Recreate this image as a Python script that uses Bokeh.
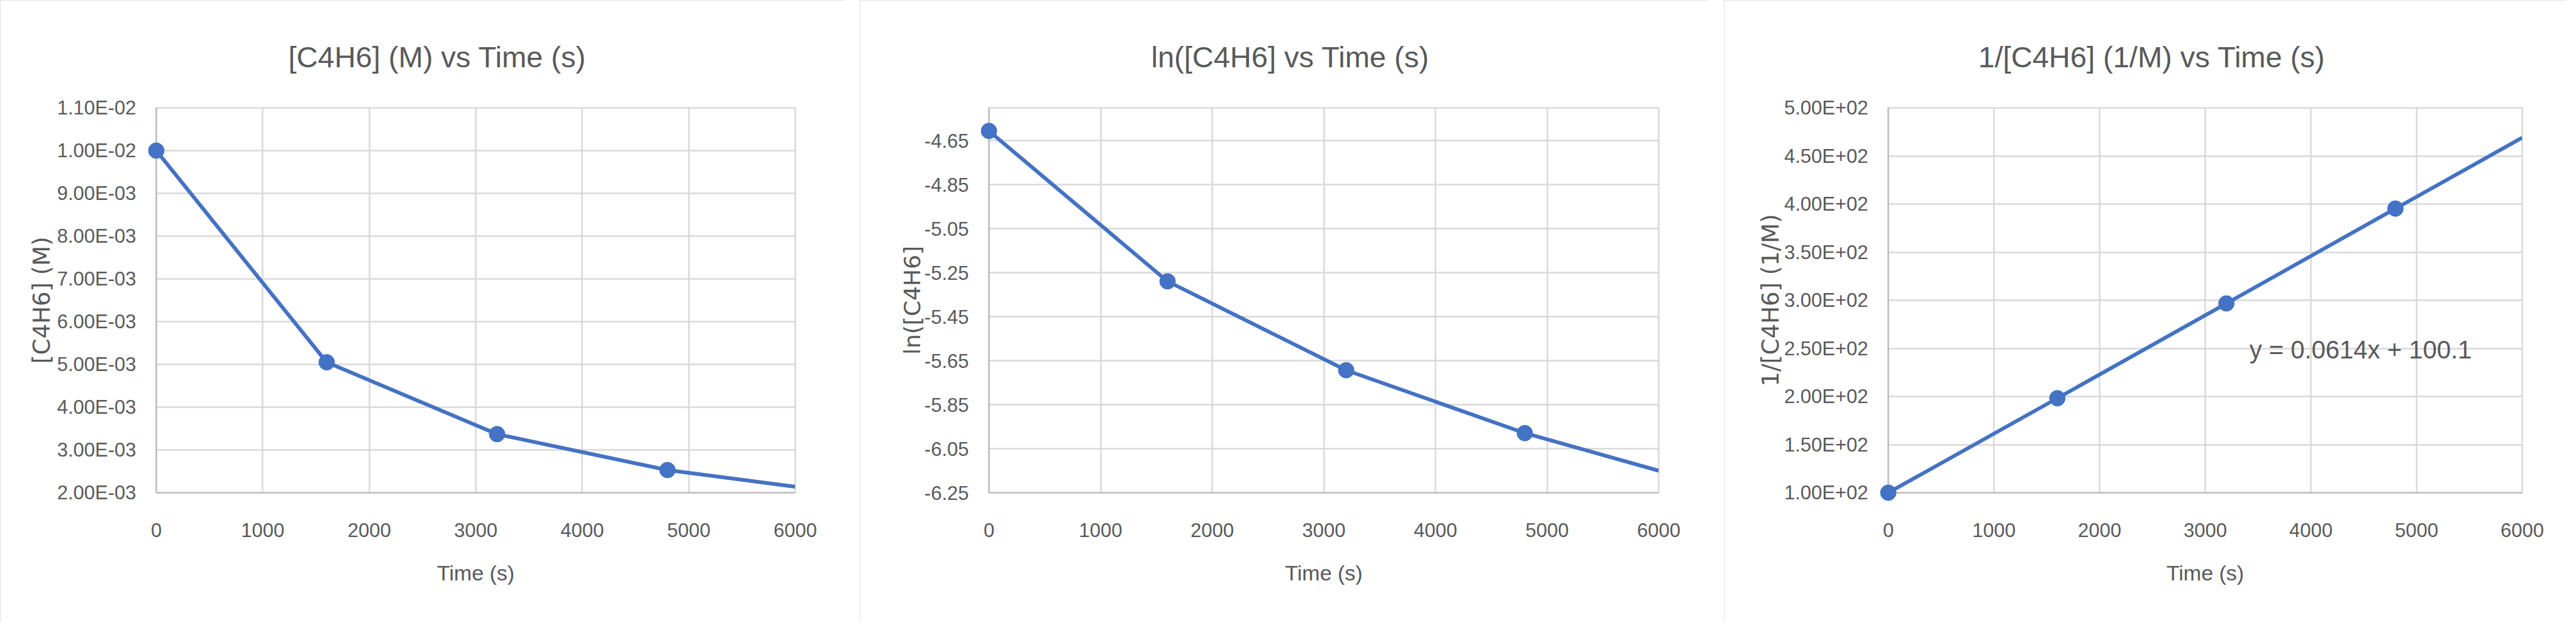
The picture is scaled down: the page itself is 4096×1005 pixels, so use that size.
from bokeh.plotting import figure
from bokeh.layouts import row
from bokeh.models import FixedTicker, Range1d, Label
from bokeh.embed import file_html
from bokeh.resources import INLINE

# ---------------- data ----------------
time_s = [0, 1600, 3200, 4800]
conc_M = [1.00e-2, 5.05e-3, 3.37e-3, 2.53e-3]
ln_conc = [-4.605, -5.289, -5.693, -5.979]
inv_conc = [100.0, 198.2, 296.7, 395.3]

line_time_s = [0, 1600, 3200, 4800, 6000]
conc_line = [1.00e-2, 5.05e-3, 3.37e-3, 2.53e-3, 2.14e-3]
ln_line = [-4.605, -5.289, -5.693, -5.979, -6.150]
inv_line = [100.0, 198.2, 296.7, 395.3, 469.0]

x_ticks = [0, 1000, 2000, 3000, 4000, 5000, 6000]
x_labels = ["0", "1000", "2000", "3000", "4000", "5000", "6000"]

y1_ticks = [0.002, 0.003, 0.004, 0.005, 0.006, 0.007, 0.008, 0.009, 0.010, 0.011]
y1_labels = ["2.00E-03", "3.00E-03", "4.00E-03", "5.00E-03", "6.00E-03",
             "7.00E-03", "8.00E-03", "9.00E-03", "1.00E-02", "1.10E-02"]

y2_ticks = [-6.25, -6.05, -5.85, -5.65, -5.45, -5.25, -5.05, -4.85, -4.65]
y2_labels = ["-6.25", "-6.05", "-5.85", "-5.65", "-5.45", "-5.25", "-5.05", "-4.85", "-4.65"]

y3_ticks = [100, 150, 200, 250, 300, 350, 400, 450, 500]
y3_labels = ["1.00E+02", "1.50E+02", "2.00E+02", "2.50E+02", "3.00E+02",
             "3.50E+02", "4.00E+02", "4.50E+02", "5.00E+02"]

titles = ["[C4H6] (M) vs Time (s)", "ln([C4H6]  vs Time (s)", "1/[C4H6] (1/M) vs Time (s)"]
y_titles = ["[C4H6] (M)", "ln([C4H6]", "1/[C4H6] (1/M)"]
x_title = "Time (s)"
equation = "y = 0.0614x + 100.1"

# ---------------- styling ----------------
BLUE = "#4472C4"
TEXT = "#595959"
GRID = "#D9D9D9"
AXIS = "#BFBFBF"
SANS = "Liberation Sans"
WIDE = "DejaVu Sans"


def make_panel(width, borders, title, title_offset, y_title, y_range, y_ticks, y_labels,
               line_y, pts_y, ylab_standoff, ylab_size):
    left, right, top, bottom = borders
    p = figure(width=width, height=989, output_backend="svg", toolbar_location=None,
               x_range=Range1d(0, 6000), y_range=Range1d(*y_range),
               min_border_left=left, min_border_right=right,
               min_border_top=top, min_border_bottom=bottom)
    p.background_fill_color = "white"
    p.border_fill_color = "white"
    p.outline_line_color = GRID
    p.outline_line_width = 2.5
    p.styles = {"outline": "3px solid #D9D9D9", "outline-offset": "-3px"}

    p.title.text = title
    p.title.align = "left"
    p.title.offset = title_offset
    p.title.text_font = SANS
    p.title.text_font_size = "47px"
    p.title.text_font_style = "normal"
    p.title.text_color = TEXT
    p.title.standoff = 110

    p.xaxis.ticker = FixedTicker(ticks=x_ticks)
    p.xaxis.major_label_overrides = dict(zip(x_ticks, x_labels))
    p.yaxis.ticker = FixedTicker(ticks=y_ticks)
    p.yaxis.major_label_overrides = dict(zip(y_ticks, y_labels))

    for ax in (p.xaxis[0], p.yaxis[0]):
        ax.axis_line_color = AXIS
        ax.axis_line_width = 2.5
        ax.major_tick_line_color = None
        ax.minor_tick_line_color = None
        ax.major_tick_in = 0
        ax.major_tick_out = 0
        ax.major_label_text_font = SANS
        ax.major_label_text_font_size = "31px"
        ax.major_label_text_color = TEXT
        ax.axis_label_text_color = TEXT
        ax.axis_label_text_font_style = "normal"

    p.xaxis.major_label_standoff = 48
    p.yaxis.major_label_standoff = 32
    p.xaxis.axis_label = x_title
    p.xaxis.axis_label_text_font = SANS
    p.xaxis.axis_label_text_font_size = "34px"
    p.xaxis.axis_label_standoff = 35
    p.yaxis.axis_label = y_title
    p.yaxis.axis_label_text_font = WIDE
    p.yaxis.axis_label_text_font_size = ylab_size
    p.yaxis.axis_label_standoff = ylab_standoff

    p.xgrid.grid_line_color = GRID
    p.xgrid.grid_line_width = 2.5
    p.ygrid.grid_line_color = GRID
    p.ygrid.grid_line_width = 2.5

    p.line(line_time_s, line_y, line_color=BLUE, line_width=6)
    p.scatter(time_s, pts_y, size=25, fill_color=BLUE, line_color=BLUE, level="overlay")
    return p


p1 = make_panel(1341, (248, 77, 165, 206), titles[0], 210, y_titles[0],
                (0.002, 0.011), y1_ticks, y1_labels, conc_line, conc_M, 0, "37px")
p2 = make_panel(1348, (205, 78, 168, 202), titles[1], 258, y_titles[1],
                (-6.25, -4.50), y2_ticks, y2_labels, ln_line, ln_conc, -4, "36px")
p3 = make_panel(1339, (261, 70, 171, 200), titles[2], 143, y_titles[2],
                (100, 500), y3_ticks, y3_labels, inv_line, inv_conc, -3, "37px")

p3.add_layout(Label(x=4470, y=249, text=equation, text_align="center",
                    text_baseline="middle", text_font=SANS, text_font_size="40px",
                    text_color=TEXT))

layout = row(p1, p2, p3, spacing=26)
open("out.html", "w").write(file_html(layout, INLINE))
